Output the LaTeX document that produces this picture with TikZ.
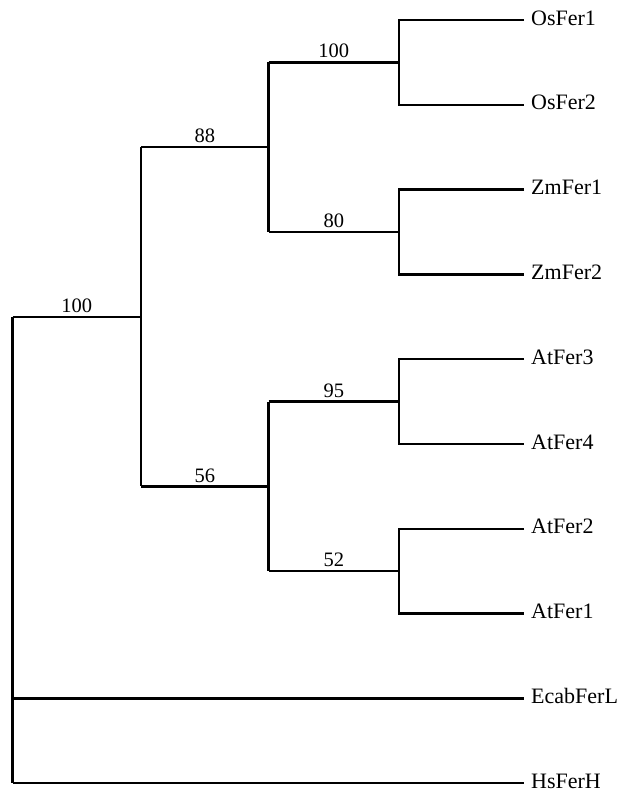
\documentclass[tikz,border=0pt]{standalone}
\usepackage{fontspec}
\setmainfont{Liberation Serif}
\begin{document}
\begin{tikzpicture}[x=1pt,y=-1pt,
  branch/.style={line width=2.4pt,line join=miter,black},
  leaf/.style={anchor=west,inner sep=0pt,yshift=2pt,font=\fontsize{22}{24}\selectfont},
  boot/.style={above=3pt,inner sep=0pt,font=\fontsize{20.5}{24}\selectfont}]
\useasboundingbox (0,0) rectangle (628,791);
% leaves
\foreach \n/\t [count=\i] in {a/OsFer1,b/OsFer2,c/ZmFer1,d/ZmFer2,e/AtFer3,f/AtFer4,g/AtFer2,h/AtFer1,k/EcabFerL,m/HsFerH}{
  \node[leaf] (\n) at (531,{20+84.8*(\i-1)}) {\t};
  \coordinate (\n e) at (524,{20+84.8*(\i-1)});
}
% internal nodes
\coordinate (ab) at (399,62.4);
\coordinate (cd) at (399,232);
\coordinate (ef) at (399,401.6);
\coordinate (gh) at (399,571.2);
\coordinate (oz) at (268.5,147.2);
\coordinate (at) at (268.5,486.4);
\coordinate (in) at (141,316.8);
\coordinate (rt) at (12.5,316.8);
% brackets to leaves
\draw[branch] (ae) -| (ab) |- (be);
\draw[branch] (ce) -| (cd) |- (de);
\draw[branch] (ee) -| (ef) |- (fe);
\draw[branch] (ge) -| (gh) |- (he);
% inner branches
\draw[branch] (oz |- ab) -- node[boot]{100} (ab);
\draw[branch] (oz |- cd) -- node[boot]{80} (cd);
\draw[branch] (oz |- ab) -- (oz |- cd);
\draw[branch] (at |- ef) -- node[boot]{95} (ef);
\draw[branch] (at |- gh) -- node[boot]{52} (gh);
\draw[branch] (at |- ef) -- (at |- gh);
\draw[branch] (in |- oz) -- node[boot]{88} (oz);
\draw[branch] (in |- at) -- node[boot]{56} (at);
\draw[branch] (in |- oz) -- (in |- at);
\draw[branch] (rt) -- node[boot]{100} (in);
\draw[branch] (rt) -- (rt |- me);
\draw[branch] (rt |- ke) -- (ke);
\draw[branch] (rt |- me) -- (me);
\end{tikzpicture}
\end{document}
